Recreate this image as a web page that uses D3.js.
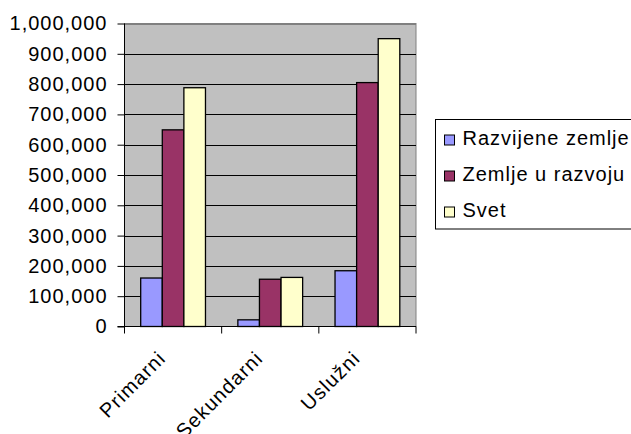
<!DOCTYPE html>
<html>
<head>
<meta charset="utf-8">
<script src="https://cdn.jsdelivr.net/npm/d3@7"></script>
<style>
  body { margin: 0; background: #fff; }
  text { font-family: "Liberation Sans", Arial, sans-serif; }
</style>
</head>
<body>
<svg id="chart" width="631" height="434"></svg>
<script>
// data
const categories = ['Primarni', 'Sekundarni', 'Uslužni'];
const seriesNames = ['Razvijene zemlje', 'Zemlje u razvoju', 'Svet'];
const razvijene = [160000, 22000, 184000];
const uRazvoju = [649000, 156000, 805000];
const svet = [788000, 162000, 950000];
const yTicks = [0, 100000, 200000, 300000, 400000, 500000, 600000, 700000, 800000, 900000, 1000000];

const colors = ['#9999FF', '#993366', '#FFFFCC'];
const seriesValues = [razvijene, uRazvoju, svet];

const svg = d3.select('#chart');
const plot = { left: 124.5, right: 416, top: 23.5, bottom: 326.5 };

const x = d3.scaleBand().domain(categories).range([plot.left, plot.right]);
const inner = d3.scaleBand().domain(d3.range(3)).range([0, x.bandwidth()])
    .paddingInner(0).paddingOuter(0.75);
const y = d3.scaleLinear().domain([0, 1000000]).range([plot.bottom, plot.top]);

// plot area background
svg.append('rect')
    .attr('x', plot.left).attr('y', plot.top)
    .attr('width', plot.right - plot.left).attr('height', plot.bottom - plot.top)
    .attr('fill', '#C0C0C0')
    .attr('stroke', '#808080');

// gridlines
svg.append('g').selectAll('line')
    .data(yTicks.slice(1))
    .join('line')
    .attr('x1', plot.left).attr('x2', plot.right)
    .attr('y1', d => Math.round(y(d)) + 0.5).attr('y2', d => Math.round(y(d)) + 0.5)
    .attr('stroke', d => d === 1000000 ? '#808080' : '#000')
    .attr('stroke-width', 1);

// bars
const rows = [];
categories.forEach((c, i) => {
    seriesValues.forEach((vals, s) => rows.push({ cat: c, s: s, v: vals[i] }));
});

svg.append('g').selectAll('rect')
    .data(rows)
    .join('rect')
    .attr('x', d => x(d.cat) + inner(d.s))
    .attr('y', d => y(d.v))
    .attr('width', inner.bandwidth())
    .attr('height', d => y(0) - y(d.v))
    .attr('fill', d => colors[d.s])
    .attr('stroke', '#000')
    .attr('stroke-width', 1.3);

// y axis
const yAxis = d3.axisLeft(y)
    .tickValues(yTicks)
    .tickFormat(d3.format(','))
    .tickSize(7)
    .tickPadding(10);

const yg = svg.append('g')
    .attr('transform', 'translate(' + plot.left + ',0)')
    .call(yAxis);
yg.select('.domain').remove();
yg.selectAll('line').attr('stroke', '#000');
yg.selectAll('text')
    .attr('font-size', 20)
    .attr('letter-spacing', 1)
    .attr('fill', '#000');
svg.append('line')
    .attr('x1', plot.left).attr('x2', plot.left)
    .attr('y1', plot.top).attr('y2', plot.bottom + 6)
    .attr('stroke', '#000');

// x axis
svg.append('line')
    .attr('x1', plot.left - 7).attr('x2', plot.right)
    .attr('y1', plot.bottom).attr('y2', plot.bottom)
    .attr('stroke', '#000');

const xEdges = categories.map(c => x(c)).concat([plot.right]);
svg.append('g').selectAll('line')
    .data(xEdges)
    .join('line')
    .attr('x1', d => d).attr('x2', d => d)
    .attr('y1', plot.bottom).attr('y2', plot.bottom + 7)
    .attr('stroke', '#000');

svg.append('g').selectAll('text')
    .data(categories)
    .join('text')
    .attr('transform', d => 'translate(' + (x(d) + x.bandwidth() / 2 - 6) + ',' + (plot.bottom + 33) + ') rotate(-45)')
    .attr('text-anchor', 'end')
    .attr('font-size', 20)
    .attr('letter-spacing', 1.2)
    .text(d => d);

// legend
const legend = svg.append('g');
legend.append('rect')
    .attr('x', 435.5).attr('y', 119.5)
    .attr('width', 220).attr('height', 109.5)
    .attr('fill', '#fff')
    .attr('stroke', '#000');

const items = legend.selectAll('g.item')
    .data(seriesNames)
    .join('g')
    .attr('class', 'item')
    .attr('transform', (d, i) => 'translate(444.5,' + (145 + i * 36) + ')');

items.append('rect')
    .attr('x', 0).attr('y', -10)
    .attr('width', 10).attr('height', 10)
    .attr('fill', (d, i) => colors[i])
    .attr('stroke', '#000');

items.append('text')
    .attr('x', 18).attr('y', 0)
    .attr('font-size', 20)
    .attr('letter-spacing', 1)
    .text(d => d);
</script>
</body>
</html>
